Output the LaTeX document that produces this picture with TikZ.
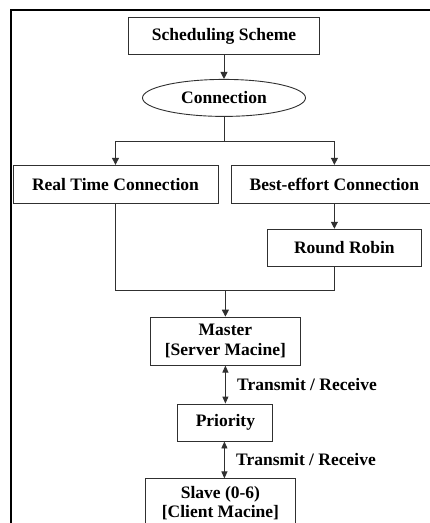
\documentclass[tikz,border=0pt]{standalone}
\usepackage{fontspec}
\setmainfont{Liberation Serif}
\usetikzlibrary{arrows.meta,positioning,shapes.geometric,calc}
\definecolor{edge}{HTML}{303030}

\begin{document}
\begin{tikzpicture}[x=1pt,y=1pt,
  font=\fontsize{17.5}{19.5}\selectfont\bfseries,
  blk/.style={draw=edge,line width=0.9pt,align=center,inner sep=0pt,minimum height=37pt},
  arr/.style={-{Triangle[length=7pt,width=7pt]},edge,line width=0.9pt},
  dbl/.style={{Triangle[length=7pt,width=6pt]}-{Triangle[length=7pt,width=6pt]},edge,line width=0.9pt}]
\useasboundingbox (0,0) rectangle (430,-523);
\draw[line width=2.5pt] (11,-523) |- (430,-10);
\node[blk,minimum width=191pt] (ss) at (224,-36) {Scheduling Scheme};
\node[blk,ellipse,minimum width=163pt,below=24pt of ss] (conn) {Connection};
\node[blk,minimum width=205pt,minimum height=38pt,below=48pt of conn,xshift=-108.5pt] (rt) {Real Time Connection};
\node[blk,minimum width=205pt,minimum height=38pt,right=13pt of rt] (be) {Best-effort Connection};
\node[blk,minimum width=154pt,below=25pt of be,xshift=10pt] (rr) {Round Robin};
\node[blk,minimum width=150pt,minimum height=48pt,below=50pt of rr,xshift=-119pt] (master) {Master\\{}[Server Macine]};
\node[blk,minimum width=95pt,below=38pt of master] (prio) {Priority};
\node[blk,minimum width=150pt,minimum height=48pt,below=37pt of prio,xshift=-5pt] (slave) {Slave (0-6)\\{}[Client Macine]};
\draw[arr] (ss) -- (conn);
\draw[edge,line width=0.9pt] (conn.south) -- ++(0,-25) coordinate (fork);
\draw[arr] (fork) -| (rt.north); \draw[arr] (fork) -| (be.north);
\draw[arr] (be.south) -- (be.south |- rr.north);
\coordinate (join) at ($(master.north)+(0,26)$);
\draw[edge,line width=0.9pt] (rt.south) |- (join) -| (be.south |- rr.south);
\draw[arr] (join) -- (master.north);
\draw[dbl] (master.south) -- node[right=8pt,black] {Transmit / Receive} (master.south |- prio.north);
\draw[dbl] ([xshift=-1pt]prio.south) -- node[right=8pt,black] {Transmit / Receive} ([xshift=-1pt]prio.south |- slave.north);
\end{tikzpicture}
\end{document}
